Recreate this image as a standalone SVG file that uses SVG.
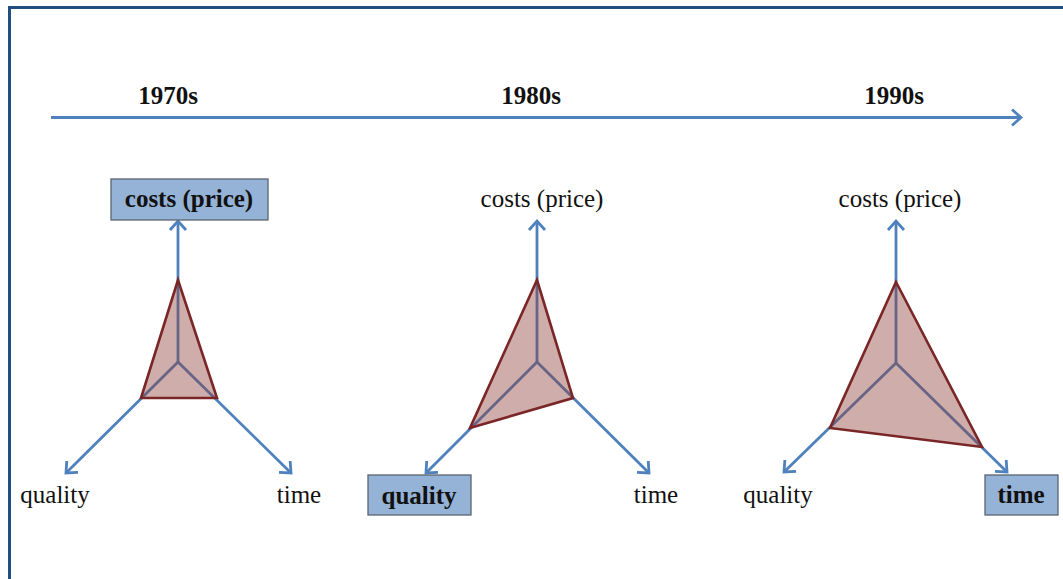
<svg xmlns="http://www.w3.org/2000/svg" width="1063" height="579" viewBox="0 0 1063 579">
<style>
.frame{fill:#ffffff;stroke:#1f4e7f;stroke-width:3}
.axis{stroke:#4f81bd;stroke-width:2.8;fill:none}
.tl{stroke:#4f81bd;stroke-width:3;fill:none}
.tri{fill:#8c3c38;fill-opacity:0.42;stroke:#7b2626;stroke-width:2.6;stroke-linejoin:miter}
.box{fill:#95b3d7;stroke:#5a6470;stroke-width:1.3}
.lbl{font-family:"Liberation Serif",serif;font-size:25px;fill:#111;text-anchor:middle}
.b{font-weight:bold}
</style>
<defs>
<marker id="ah" markerUnits="userSpaceOnUse" markerWidth="22" markerHeight="22" refX="12" refY="11" orient="auto">
<path d="M3,3 L12,11 L3,19" fill="none" stroke="#4f81bd" stroke-width="2.8"/>
</marker>
</defs>
<rect x="0" y="0" width="1063" height="579" fill="#ffffff"/>
<rect class="frame" x="9.5" y="7.5" width="1070" height="590"/>

<g id="timeline">
<line class="tl" x1="51" y1="117.5" x2="1021" y2="117.5" marker-end="url(#ah)"/>
<text class="lbl b" x="168" y="104">1970s</text>
<text class="lbl b" x="531" y="104">1980s</text>
<text class="lbl b" x="894" y="104">1990s</text>
</g>

<g id="connectors">
<line class="axis" x1="178" y1="362" x2="178" y2="221" marker-end="url(#ah)"/>
<line class="axis" x1="178" y1="362" x2="66" y2="473" marker-end="url(#ah)"/>
<line class="axis" x1="178" y1="362" x2="291" y2="473" marker-end="url(#ah)"/>
<line class="axis" x1="537" y1="362" x2="537" y2="221" marker-end="url(#ah)"/>
<line class="axis" x1="537" y1="362" x2="426" y2="473" marker-end="url(#ah)"/>
<line class="axis" x1="537" y1="362" x2="649" y2="473" marker-end="url(#ah)"/>
<line class="axis" x1="896" y1="363" x2="896" y2="221" marker-end="url(#ah)"/>
<line class="axis" x1="896" y1="363" x2="784" y2="472" marker-end="url(#ah)"/>
<line class="axis" x1="896" y1="363" x2="1007" y2="472" marker-end="url(#ah)"/>
</g>

<g id="tri1970">
<polygon class="tri" points="178,280 141,398 217,398"/>
</g>
<g id="tri1980">
<polygon class="tri" points="537,280 573,398 470,428"/>
</g>
<g id="tri1990">
<polygon class="tri" points="896,282 982,447 830,428"/>
</g>

<g id="costs1970">
<rect class="box" x="111" y="179" width="157" height="41"/>
<text class="lbl b" x="189" y="207">costs (price)</text>
</g>
<g id="quality1970"><text class="lbl" x="55" y="503">quality</text></g>
<g id="time1970"><text class="lbl" x="299" y="503">time</text></g>

<g id="costs1980"><text class="lbl" x="542" y="207">costs (price)</text></g>
<g id="quality1980">
<rect class="box" x="368" y="475" width="103" height="40"/>
<text class="lbl b" x="419" y="504">quality</text>
</g>
<g id="time1980"><text class="lbl" x="656" y="503">time</text></g>

<g id="costs1990"><text class="lbl" x="900" y="207">costs (price)</text></g>
<g id="quality1990"><text class="lbl" x="778" y="503">quality</text></g>
<g id="time1990">
<rect class="box" x="985" y="475" width="73" height="40"/>
<text class="lbl b" x="1021" y="503">time</text>
</g>
</svg>
